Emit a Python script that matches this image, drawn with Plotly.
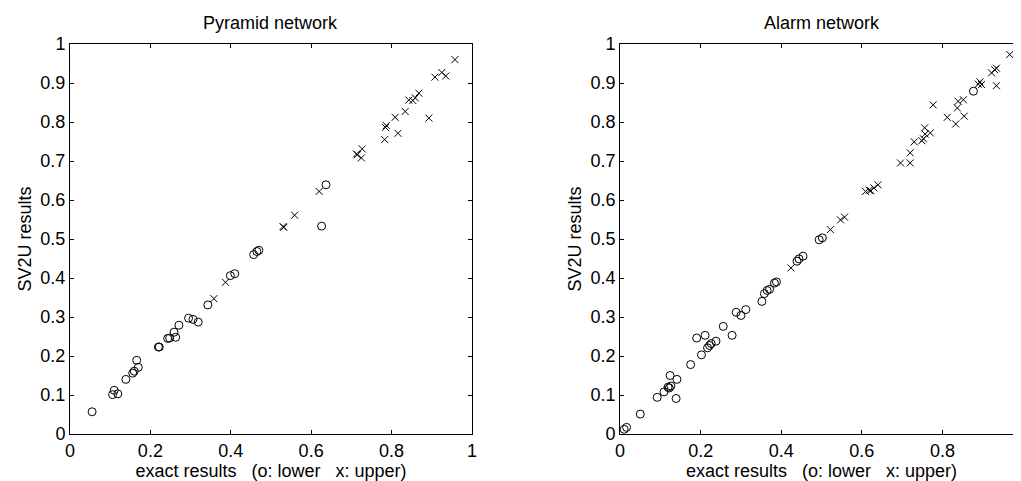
import plotly.graph_objects as go

# ---- data ----
pyr_lower_x = [0.055,0.106,0.110,0.119,0.139,0.156,0.160,0.170,0.166,0.220,0.222,0.243,0.248,0.263,0.259,0.271,0.295,0.306,0.319,0.343,0.399,0.410,0.457,0.465,0.470,0.626,0.637]
pyr_lower_y = [0.057,0.101,0.112,0.103,0.140,0.156,0.161,0.171,0.189,0.223,0.223,0.245,0.246,0.248,0.261,0.279,0.297,0.294,0.287,0.331,0.406,0.411,0.460,0.468,0.471,0.533,0.639]

pyr_upper_x = [0.358,0.387,0.530,0.532,0.559,0.620,0.713,0.715,0.725,0.727,0.783,0.785,0.787,0.809,0.816,0.834,0.843,0.853,0.859,0.868,0.893,0.908,0.925,0.935,0.958]
pyr_upper_y = [0.347,0.389,0.532,0.530,0.561,0.622,0.718,0.716,0.708,0.731,0.755,0.786,0.791,0.812,0.771,0.827,0.856,0.855,0.862,0.874,0.810,0.915,0.927,0.918,0.960]

alarm_lower_x = [0.010,0.016,0.050,0.092,0.109,0.119,0.122,0.126,0.124,0.141,0.139,0.175,0.202,0.190,0.211,0.217,0.222,0.226,0.238,0.256,0.278,0.288,0.300,0.312,0.352,0.358,0.365,0.371,0.383,0.388,0.439,0.444,0.454,0.494,0.502,0.877]
alarm_lower_y = [0.012,0.017,0.051,0.094,0.108,0.120,0.118,0.123,0.150,0.140,0.091,0.178,0.203,0.246,0.253,0.221,0.227,0.232,0.238,0.276,0.253,0.312,0.304,0.319,0.340,0.360,0.368,0.371,0.387,0.390,0.443,0.449,0.456,0.498,0.503,0.879]

alarm_upper_x = [0.424,0.522,0.547,0.557,0.609,0.618,0.622,0.630,0.640,0.696,0.720,0.720,0.730,0.749,0.753,0.757,0.756,0.770,0.777,0.812,0.833,0.837,0.839,0.854,0.852,0.889,0.893,0.897,0.922,0.930,0.934,0.934,0.967]
alarm_upper_y = [0.426,0.524,0.549,0.556,0.622,0.625,0.624,0.631,0.639,0.695,0.695,0.721,0.749,0.752,0.757,0.769,0.785,0.772,0.844,0.812,0.795,0.836,0.853,0.815,0.857,0.897,0.903,0.896,0.926,0.934,0.938,0.893,0.973]

titles = ["Pyramid network", "Alarm network"]
x_tick_vals = [0, 0.2, 0.4, 0.6, 0.8, 1]
x_tick_text = ["0", "0.2", "0.4", "0.6", "0.8", "1"]
y_tick_vals = [i / 10 for i in range(11)]
y_tick_text = ["0", "0.1", "0.2", "0.3", "0.4", "0.5", "0.6", "0.7", "0.8", "0.9", "1"]
x_label = "exact results\u00a0\u00a0\u00a0(o: lower\u00a0\u00a0\u00a0x: upper)"
y_label = "SV2U results"

FONT = "Liberation Sans, Arial, Helvetica, sans-serif"
FS = 18

fig = go.Figure()

circle = dict(symbol="circle-open", size=8, color="black", line=dict(width=1, color="black"))
cross = dict(symbol="x-thin-open", size=7, color="black", line=dict(width=1, color="black"))

fig.add_trace(go.Scatter(x=pyr_lower_x, y=pyr_lower_y, mode="markers", marker=circle, xaxis="x", yaxis="y"))
fig.add_trace(go.Scatter(x=pyr_upper_x, y=pyr_upper_y, mode="markers", marker=cross, xaxis="x", yaxis="y"))
fig.add_trace(go.Scatter(x=alarm_lower_x, y=alarm_lower_y, mode="markers", marker=circle, xaxis="x2", yaxis="y2"))
fig.add_trace(go.Scatter(x=alarm_upper_x, y=alarm_upper_y, mode="markers", marker=cross, xaxis="x2", yaxis="y2"))

ax_common = dict(range=[0, 1], showgrid=False, zeroline=False, showline=True, linecolor="black",
                 linewidth=1, mirror="ticks", ticks="inside", ticklen=4, tickcolor="black",
                 tickfont=dict(family=FONT, size=FS, color="black"))

W, H = 1021, 481
ml, mr, mt, mb = 62, 1, 36, 55
pw = W - ml - mr
d1 = [0, 404 / pw]
d2 = [(615 - ml) / pw, 1]

fig.update_layout(
    width=W, height=H,
    margin=dict(l=ml, r=mr, t=mt, b=mb),
    paper_bgcolor="white", plot_bgcolor="white",
    showlegend=False,
    font=dict(family=FONT, size=FS, color="black"),
    xaxis=dict(domain=d1, anchor="y", tickvals=x_tick_vals, ticktext=x_tick_text,
               title=dict(text=x_label, font=dict(family=FONT, size=FS), standoff=2), **ax_common),
    yaxis=dict(domain=[0, 1], anchor="x", tickvals=y_tick_vals, ticktext=y_tick_text,
               title=dict(text=y_label, font=dict(family=FONT, size=FS), standoff=4), **ax_common),
    xaxis2=dict(domain=d2, anchor="y2", tickvals=x_tick_vals, ticktext=x_tick_text,
                title=dict(text=x_label, font=dict(family=FONT, size=FS), standoff=2), **ax_common),
    yaxis2=dict(domain=[0, 1], anchor="x2", tickvals=y_tick_vals, ticktext=y_tick_text,
                title=dict(text=y_label, font=dict(family=FONT, size=FS), standoff=4), **ax_common),
)

for i, t in enumerate(titles):
    dom = d1 if i == 0 else d2
    fig.add_annotation(text=t, xref="paper", yref="paper", x=(dom[0] + dom[1]) / 2, y=1,
                       yshift=21, xanchor="center", yanchor="middle", showarrow=False,
                       font=dict(family=FONT, size=FS, color="black"))

fig.write_html("out.html")
